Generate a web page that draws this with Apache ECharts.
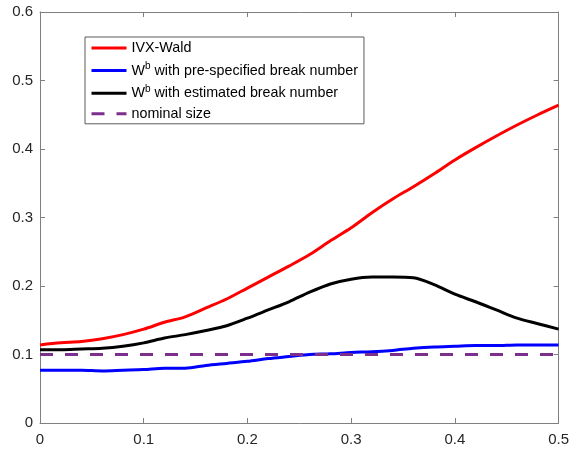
<!DOCTYPE html>
<html>
<head>
<meta charset="utf-8">
<script src="https://cdn.jsdelivr.net/npm/echarts@6/dist/echarts.min.js"></script>
<style>html,body{margin:0;padding:0;background:#fff;}#c{width:572px;height:452px;}</style>
</head>
<body>
<div id="c"></div>
<script>
var xVals = [0,0.02,0.04,0.06,0.08,0.10,0.12,0.14,0.16,0.18,0.20,0.22,0.24,0.26,0.28,0.30,0.32,0.34,0.36,0.38,0.40,0.42,0.44,0.46,0.48,0.50];
var ivxWald = [0.114,0.117,0.119,0.123,0.129,0.137,0.147,0.155,0.168,0.181,0.197,0.213,0.229,0.246,0.266,0.285,0.307,0.327,0.345,0.364,0.384,0.402,0.419,0.435,0.450,0.464];
var wbPre = [0.077,0.077,0.077,0.076,0.077,0.078,0.080,0.080,0.084,0.087,0.090,0.094,0.097,0.100,0.101,0.103,0.104,0.106,0.109,0.111,0.112,0.113,0.113,0.114,0.114,0.114];
var wbEst = [0.107,0.107,0.108,0.109,0.112,0.117,0.124,0.129,0.135,0.142,0.153,0.165,0.177,0.191,0.203,0.210,0.213,0.213,0.212,0.202,0.188,0.177,0.165,0.153,0.145,0.137];
var nominalX = [0, 0.5];
var nominal = [0.1, 0.1];
var names = ['IVX-Wald','W^b with pre-specified break number','W^b with estimated break number','nominal size'];

function pairs(xs, ys){ return xs.map(function(x,i){ return [x, ys[i]]; }); }

var chart = echarts.init(document.getElementById('c'), null, {renderer:'canvas'});
var axisColor = '#808080';
var ff = 'Liberation Sans, Arial, sans-serif';
var labelStyle = {color:'#262626', fontSize:15, fontFamily:ff};
var option = {
  animation:false,
  backgroundColor:'#fff',
  grid:{left:40, right:11, top:12, bottom:29, containLabel:false},
  legend:{
    orient:'vertical', left:85, top:37,
    data:names,
    itemWidth:35, itemHeight:14, itemGap:6.6,
    padding:[4,6,3,5],
    borderColor:'#5a5a5a', borderWidth:1, borderRadius:0,
    backgroundColor:'#fff',
    itemStyle:{opacity:0},
    lineStyle:{width:3},
    formatter:function(n){
      if(n.indexOf('W^b')===0){ return '{n|W}{sup|b}{n|' + n.slice(3) + '}'; }
      return '{n|' + n + '}';
    },
    textStyle:{
      color:'#000', fontSize:14.3, fontFamily:ff,
      rich:{
        n:{fontSize:14.3, color:'#000', fontFamily:ff},
        sup:{fontSize:10, color:'#000', fontFamily:ff, padding:[0,0,8,0]}
      }
    }
  },
  xAxis:[
    {type:'value', min:0, max:0.5, interval:0.1, position:'bottom',
     axisLine:{show:true, lineStyle:{color:axisColor, width:1}},
     axisTick:{show:true, inside:true, length:5, lineStyle:{color:axisColor}},
     axisLabel:Object.assign({margin:9}, labelStyle),
     splitLine:{show:false}},
    {type:'value', min:0, max:0.5, interval:0.1, position:'top',
     axisLine:{show:true, onZero:false, lineStyle:{color:axisColor, width:1}},
     axisTick:{show:true, inside:true, length:5, lineStyle:{color:axisColor}},
     axisLabel:{show:false}, splitLine:{show:false}}
  ],
  yAxis:[
    {type:'value', min:0, max:0.6, interval:0.1, position:'left',
     axisLine:{show:true, lineStyle:{color:axisColor, width:1}},
     axisTick:{show:true, inside:true, length:5, lineStyle:{color:axisColor}},
     axisLabel:Object.assign({margin:7}, labelStyle),
     splitLine:{show:false}},
    {type:'value', min:0, max:0.6, interval:0.1, position:'right',
     axisLine:{show:true, onZero:false, lineStyle:{color:axisColor, width:1}},
     axisTick:{show:true, inside:true, length:5, lineStyle:{color:axisColor}},
     axisLabel:{show:false}, splitLine:{show:false}}
  ],
  series:[
    {name:names[0], type:'line', data:pairs(xVals, ivxWald), symbol:'none', smooth:0.3,
     lineStyle:{color:'#ff0000', width:3}, itemStyle:{color:'#ff0000'}},
    {name:names[1], type:'line', data:pairs(xVals, wbPre), symbol:'none', smooth:0.3,
     lineStyle:{color:'#0000ff', width:3}, itemStyle:{color:'#0000ff'}},
    {name:names[2], type:'line', data:pairs(xVals, wbEst), symbol:'none', smooth:0.3,
     lineStyle:{color:'#000000', width:3}, itemStyle:{color:'#000000'}},
    {name:names[3], type:'line', data:pairs(nominalX, nominal), symbol:'none',
     lineStyle:{color:'#7e2f8e', width:3, type:[13,12]}, itemStyle:{color:'#7e2f8e'}}
  ]
};
chart.setOption(option);
</script>
</body>
</html>
